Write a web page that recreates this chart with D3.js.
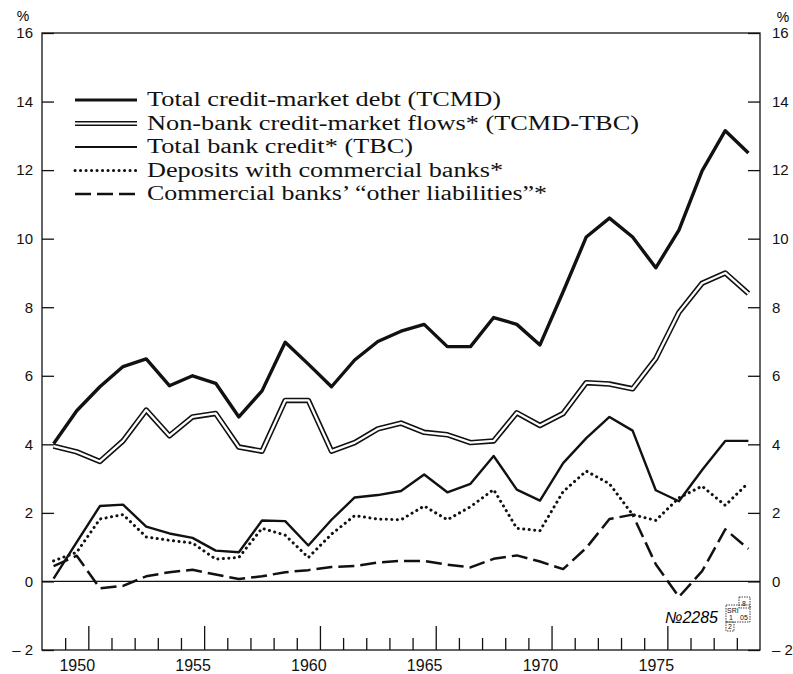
<!DOCTYPE html>
<html>
<head>
<meta charset="utf-8">
<script src="https://cdn.jsdelivr.net/npm/d3@7"></script>
<style>
  body { margin: 0; background: #fff; }
  .tick text { font-family: "Liberation Sans", Arial, sans-serif; font-size: 15px; fill: #111; }
  .xlabels .tick text { font-size: 16px; }
  .legend text { font-family: "Liberation Serif", "Times New Roman", serif; font-size: 20px; fill: #111; }
</style>
</head>
<body>
<div id="chart"></div>
<script>
// years shown on the chart (one point per year)
var years = d3.range(1949, 1980);

// series values, %
var tcmd = [4.02, 4.98, 5.68, 6.27, 6.49, 5.71, 6.0, 5.78, 4.8, 5.56, 6.98, 6.34, 5.68, 6.46, 7.0, 7.3,
    7.5, 6.85, 6.85, 7.7, 7.5, 6.9, 8.45, 10.05, 10.6, 10.05, 9.15, 10.25, 11.98, 13.15, 12.5];
var nonBank = [3.95, 3.78, 3.5, 4.1, 5.0, 4.25, 4.8, 4.9, 3.92, 3.8, 5.28, 5.28, 3.8, 4.05, 4.45, 4.62,
    4.35, 4.28, 4.05, 4.1, 4.92, 4.55, 4.9, 5.8, 5.76, 5.62, 6.5, 7.85, 8.7, 9.0, 8.4];
var tbc = [0.08, 1.15, 2.2, 2.24, 1.6, 1.4, 1.27, 0.9, 0.85, 1.78, 1.76, 1.05, 1.8, 2.45, 2.52, 2.64,
    3.12, 2.6, 2.85, 3.66, 2.68, 2.36, 3.45, 4.18, 4.8, 4.4, 2.66, 2.34, 3.25, 4.1, 4.1];
var deposits = [0.6, 0.85, 1.82, 1.95, 1.3, 1.2, 1.12, 0.65, 0.7, 1.55, 1.35, 0.7, 1.38, 1.92, 1.82, 1.8,
    2.2, 1.8, 2.18, 2.68, 1.55, 1.48, 2.62, 3.22, 2.85, 1.95, 1.78, 2.44, 2.78, 2.22, 2.88];
var otherLiab = [0.45, 0.75, -0.2, -0.13, 0.15, 0.27, 0.34, 0.2, 0.07, 0.15, 0.27, 0.33, 0.42, 0.45, 0.55, 0.6,
    0.6, 0.49, 0.41, 0.66, 0.76, 0.58, 0.36, 0.98, 1.82, 1.95, 0.5, -0.45, 0.3, 1.52, 0.95];

// axis ticks and labels
var yTicks = [-2, 0, 2, 4, 6, 8, 10, 12, 14, 16];
var yearLabels = [1950, 1955, 1960, 1965, 1970, 1975];
var legendLabels = [
    "Total credit-market debt (TCMD)",
    "Non-bank credit-market flows* (TCMD-TBC)",
    "Total bank credit* (TBC)",
    "Deposits with commercial banks*",
    "Commercial banks\u2019 \u201cother liabilities\u201d*"
];
// printed widths of the legend lines in the picture
var legendWidths = [354, 492, 266, 356, 400];

var svgWidth = 793;
var svgHeight = 674;

var margin = {
    top: 33,
    bottom: 24,
    right: 33,
    left: 42
};

var width = svgWidth - margin.left - margin.right;
var height = svgHeight - margin.top - margin.bottom;

var svg = d3.select("#chart")
    .append("svg")
    .attr("width", svgWidth)
    .attr("height", svgHeight);

var g = svg.append("g")
    .attr("transform", `translate(${margin.left}, ${margin.top})`);

var x = d3.scaleLinear()
    .domain([1948.5, 1979.5])
    .range([0, width]);

var y = d3.scaleLinear()
    .domain([-2, 16])
    .range([height, 0]);

var ink = "#111";

// frame
g.append("rect")
    .attr("width", width)
    .attr("height", height)
    .attr("fill", "none")
    .attr("stroke", ink)
    .attr("stroke-width", 1.3);

// zero line
g.append("line")
    .attr("x1", 0)
    .attr("x2", width)
    .attr("y1", y(0))
    .attr("y2", y(0))
    .attr("stroke", ink)
    .attr("stroke-width", 1.2);

// left and right axes, ticks pointing inward
var leftAxis = g.append("g")
    .call(d3.axisLeft(y).tickValues(yTicks).tickSize(-12).tickPadding(9)
        .tickFormat(d => d < 0 ? "\u2013 " + Math.abs(d) : d));

var rightAxis = g.append("g")
    .attr("transform", `translate(${width}, 0)`)
    .call(d3.axisRight(y).tickValues(yTicks).tickSize(-12).tickPadding(12)
        .tickFormat(d => d < 0 ? "\u2013 " + Math.abs(d) : d));

// year ticks (year boundaries), long ones every five years
var halfYears = d3.range(1949.5, 1979, 1);
var shortTicks = halfYears.filter(d => (d - 0.5) % 5 != 0);
var longTicks = halfYears.filter(d => (d - 0.5) % 5 == 0);

g.append("g")
    .attr("transform", `translate(0, ${height})`)
    .call(d3.axisBottom(x).tickValues(shortTicks).tickSize(-12).tickFormat(""));

g.append("g")
    .attr("transform", `translate(0, ${height})`)
    .call(d3.axisBottom(x).tickValues(longTicks).tickSize(-24).tickFormat(""));

var labelAxis = g.append("g")
    .attr("class", "xlabels")
    .attr("transform", `translate(0, ${height})`)
    .call(d3.axisBottom(x).tickValues(yearLabels).tickSize(0).tickPadding(10).tickFormat(d3.format("d")));

g.selectAll(".domain").remove();
g.selectAll(".tick line").attr("stroke", ink).attr("stroke-width", 1.3);

// % signs
svg.append("text")
    .attr("x", 23).attr("y", 21)
    .attr("text-anchor", "middle")
    .style("font-family", "Liberation Sans, Arial, sans-serif")
    .style("font-size", "14px")
    .text("%");

svg.append("text")
    .attr("x", 783).attr("y", 22)
    .attr("text-anchor", "middle")
    .style("font-family", "Liberation Sans, Arial, sans-serif")
    .style("font-size", "14px")
    .text("%");

// line generator
var line = d3.line()
    .x((d, i) => x(years[i]))
    .y(d => y(d));

var lines = g.append("g").attr("fill", "none").attr("stroke-linejoin", "round");

// non-bank: double line
lines.append("path")
    .attr("d", line(nonBank))
    .attr("stroke", ink)
    .attr("stroke-width", 5.5);
lines.append("path")
    .attr("d", line(nonBank))
    .attr("stroke", "#fff")
    .attr("stroke-width", 2.3);

lines.append("path")
    .attr("d", line(tcmd))
    .attr("stroke", ink)
    .attr("stroke-width", 3.4);

lines.append("path")
    .attr("d", line(tbc))
    .attr("stroke", ink)
    .attr("stroke-width", 2.4);

lines.append("path")
    .attr("d", line(deposits))
    .attr("stroke", ink)
    .attr("stroke-width", 3)
    .attr("stroke-linecap", "round")
    .attr("stroke-dasharray", "0.1,5.4");

lines.append("path")
    .attr("d", line(otherLiab))
    .attr("stroke", ink)
    .attr("stroke-width", 2.5)
    .attr("stroke-dasharray", "16,6");

// legend
var legendStyles = [
    { w: 3.2 },
    { w: 5, inner: 2 },
    { w: 2.2 },
    { w: 3, dash: "0.1,5.4", cap: "round" },
    { w: 2.5, dash: "16,6" }
];

var legend = svg.append("g").attr("class", "legend");
var rowY = d3.scaleLinear().domain([0, 4]).range([100, 194]);

legendLabels.forEach(function (label, i) {
    var s = legendStyles[i];
    var ly = rowY(i);
    legend.append("line")
        .attr("x1", 75).attr("x2", 137)
        .attr("y1", ly).attr("y2", ly)
        .attr("stroke", ink)
        .attr("stroke-width", s.w)
        .attr("stroke-linecap", s.cap || "butt")
        .attr("stroke-dasharray", s.dash || null);
    if (s.inner) {
        legend.append("line")
            .attr("x1", 75).attr("x2", 137)
            .attr("y1", ly).attr("y2", ly)
            .attr("stroke", "#fff")
            .attr("stroke-width", s.inner);
    }
    legend.append("text")
        .attr("x", 147)
        .attr("y", ly)
        .attr("dy", "0.3em")
        .attr("textLength", legendWidths[i])
        .attr("lengthAdjust", "spacingAndGlyphs")
        .text(label);
});

// plate number and stamp
svg.append("text")
    .attr("x", 718).attr("y", 623)
    .attr("text-anchor", "end")
    .style("font-family", "Liberation Sans, Arial, sans-serif")
    .style("font-size", "16px")
    .style("font-style", "italic")
    .text("\u21162285");

var stamp = svg.append("g")
    .attr("fill", "none")
    .attr("stroke", ink)
    .attr("stroke-width", 0.8)
    .attr("stroke-dasharray", "1.5,1");
stamp.append("rect").attr("x", 739).attr("y", 597).attr("width", 11).attr("height", 11);
stamp.append("rect").attr("x", 726).attr("y", 605).attr("width", 24).attr("height", 17);
stamp.append("rect").attr("x", 726).attr("y", 622).attr("width", 8).attr("height", 9);

var stampText = svg.append("g")
    .style("font-family", "Liberation Sans, Arial, sans-serif")
    .style("font-size", "7px")
    .attr("fill", ink);
stampText.append("text").attr("x", 742).attr("y", 606).text("8");
stampText.append("text").attr("x", 727).attr("y", 613).text("SRI");
stampText.append("text").attr("x", 729).attr("y", 620).text("1");
stampText.append("text").attr("x", 740).attr("y", 620).text("05");
stampText.append("text").attr("x", 728).attr("y", 629).text("2");
</script>
</body>
</html>
